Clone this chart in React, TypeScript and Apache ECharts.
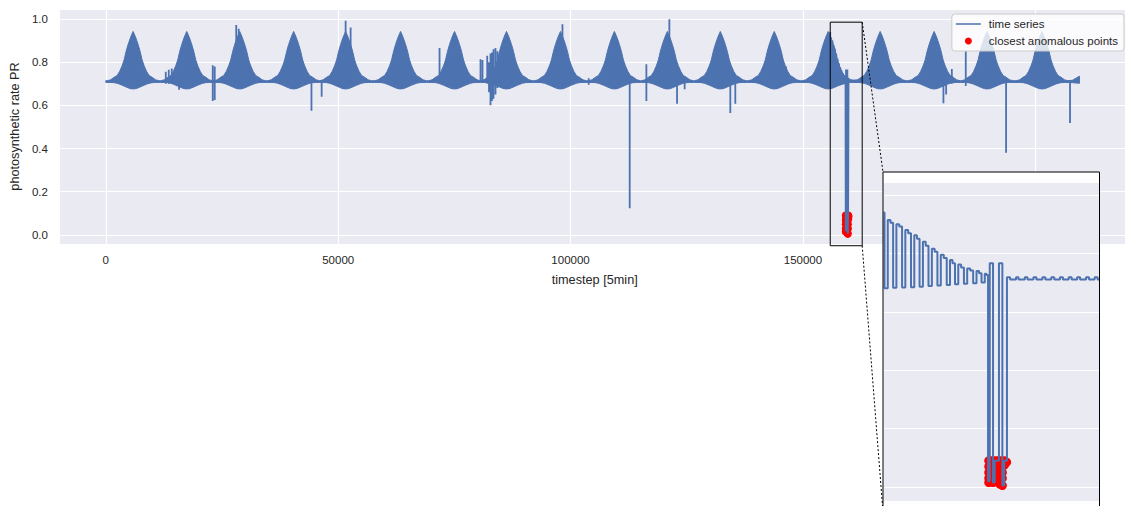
import React, { useEffect, useRef } from "react";
import * as echarts from "echarts";

const BLUE = "#4c72b0";
const BG = "#eaeaf2";
const TEXT = "#262626";
const FONT = "'Liberation Sans', Arial, Helvetica, sans-serif";

// ---- main series: envelope of the dense oscillation ----
const peakCenters = [
  5870, 17415, 28810, 40420, 51600, 63425, 75035, 86215, 97825, 109435, 120830,
  132225, 143835, 155445, 166625, 178235, 189630, 201455,
];
const profileOffsets = [
  -5590, -4840, -4085, -3440, -2900, -2365, -1935, -1505, -1075, -540, 0, 540,
  1075, 1505, 1935, 2365, 2900, 3440, 4085, 4840, 5590,
];
const profileUpper = [
  0.714, 0.718, 0.73, 0.738, 0.757, 0.783, 0.81, 0.85, 0.882, 0.915, 0.942,
  0.915, 0.882, 0.85, 0.81, 0.783, 0.757, 0.738, 0.73, 0.718, 0.714,
];
const profileLower = [
  0.706, 0.706, 0.705, 0.702, 0.698, 0.693, 0.689, 0.685, 0.681, 0.677, 0.676,
  0.677, 0.681, 0.685, 0.689, 0.693, 0.698, 0.702, 0.705, 0.706, 0.706,
];
const bandHeadT = [0];
const bandHeadUpper = [0.714];
const bandHeadLower = [0.706];
const bandTailT = [208000, 209500];
const bandTailUpper = [0.716, 0.735];
const bandTailLower = [0.705, 0.702];

// ---- isolated spikes [timestep, low, high] ----
const spikeT = [
  12900, 13545, 14190, 15760, 23005, 23435, 28060, 28595, 30810, 44250, 46440,
  51600, 52675, 71810, 80625, 81055, 82065, 82450, 82775, 83100, 83420, 83850,
  84280, 98255, 103910, 112725, 116315, 121260, 122915, 124550, 130785, 134375,
  135450, 146350, 180235, 180815, 182040, 185040, 193715, 207475,
];
const spikeLow = [
  0.7, 0.7, 0.7, 0.672, 0.62, 0.625, 0.7, 0.7, 0.7, 0.575, 0.64, 0.7, 0.7, 0.71,
  0.71, 0.71, 0.7, 0.66, 0.6, 0.62, 0.63, 0.65, 0.68, 0.7, 0.695, 0.123, 0.62,
  0.7, 0.607, 0.675, 0.7, 0.565, 0.607, 0.72, 0.61, 0.65, 0.7, 0.69, 0.38, 0.518,
];
const spikeHigh = [
  0.755, 0.765, 0.77, 0.71, 0.785, 0.78, 0.972, 0.955, 0.785, 0.73, 0.71, 0.992,
  0.96, 0.865, 0.813, 0.81, 0.83, 0.8, 0.84, 0.845, 0.86, 0.865, 0.85, 0.975,
  0.725, 0.71, 0.79, 0.998, 0.71, 0.71, 0.822, 0.71, 0.71, 0.78, 0.765, 0.74,
  0.768, 0.85, 0.71, 0.71,
];

// ---- zoomed window (inset): value changes [timestep -> value] ----
const insetT = [
  155875, 155907, 156011, 156097, 156182, 156287, 156377, 156468, 156572, 156663,
  156753, 156858, 156942, 157026, 157133, 157222, 157311, 157419, 157508, 157596,
  157704, 157799, 157894, 157999, 158078, 158157, 158262, 158352, 158443, 158547,
  158642, 158737, 158845, 158925, 159004, 159108, 159161, 159213, 159267, 159372,
  159425, 159561, 159670, 159727, 159816, 159917, 160107, 160186, 160386, 160472,
  160662, 160757, 160947, 161042, 161232, 161327, 161508, 161603, 161787, 161882,
  162057, 162152, 162342, 162437, 162615, 162710, 162755,
];
const insetV = [
  0.94, 0.681, 0.914, 0.905, 0.682, 0.9, 0.892, 0.683, 0.88, 0.869, 0.684, 0.862,
  0.85, 0.686, 0.84, 0.826, 0.688, 0.816, 0.806, 0.69, 0.795, 0.784, 0.692, 0.777,
  0.766, 0.694, 0.762, 0.752, 0.696, 0.748, 0.741, 0.698, 0.74, 0.732, 0.7, 0.73,
  0.726, 0.02, 0.766, 0.015, 0.09, 0.766, 0.005, 0.09, 0.718, 0.711, 0.718, 0.711,
  0.718, 0.711, 0.718, 0.711, 0.718, 0.711, 0.718, 0.711, 0.718, 0.711, 0.718,
  0.711, 0.718, 0.711, 0.718, 0.711, 0.718, 0.711, 0.711,
];

// ---- closest anomalous points ----
const anomalyT = [
  159235, 159235, 159235, 159235, 159235, 159300, 159300, 159372, 159372, 159372,
  159372, 159372, 159457, 159540, 159584, 159584, 159584, 159584, 159584, 159670,
  159670, 159670, 159670, 159670, 159740, 159740, 159806,
];
const anomalyV = [
  0.09, 0.07, 0.05, 0.03, 0.015, 0.09, 0.06, 0.09, 0.07, 0.05, 0.03, 0.015, 0.09,
  0.09, 0.09, 0.07, 0.05, 0.03, 0.01, 0.09, 0.07, 0.05, 0.03, 0.005, 0.09, 0.075,
  0.085,
];

// ---- axes ----
const xMin = -10100;
const xMax = 220500;
const yMin = -0.042;
const yMax = 1.046;
const zoomT0 = 155875;
const zoomT1 = 162755;
const zoomV0 = -0.05;
const zoomV1 = 0.985;
const insetYMin = -0.048;
const insetYMax = 1.0445;

function buildBand() {
  const pts: number[][] = [];
  bandHeadT.forEach((t, i) => pts.push([t, bandHeadUpper[i], bandHeadLower[i]]));
  peakCenters.forEach((c) =>
    profileOffsets.forEach((o, i) => pts.push([c + o, profileUpper[i], profileLower[i]]))
  );
  bandTailT.forEach((t, i) => pts.push([t, bandTailUpper[i], bandTailLower[i]]));
  return pts;
}

function buildInsetLine() {
  const pts: (number | null)[][] = [];
  insetT.forEach((t, i) => {
    if (i > 0) pts.push([t, insetV[i - 1]]);
    pts.push([t, insetV[i]]);
  });
  return pts;
}

function buildMainLine() {
  const pts: (number | null)[][] = [];
  spikeT.forEach((t, i) => {
    pts.push([t, spikeLow[i]]);
    pts.push([t, spikeHigh[i]]);
    pts.push([t, null]);
  });
  return pts.concat(buildInsetLine());
}

const INSET_LEFT = 883;
const INSET_TOP = 172;
const INSET_RIGHT = 1099.5;
const INSET_BOTTOM = 512;

const LINE_ICON =
  "path://M0,0L0.01,0L0.01,0.01L0,0.01Z M0,2.7L25,2.7L25,4.3L0,4.3Z M24.99,6.99L25,6.99L25,7L24.99,7Z";

export default function App() {
  const ref = useRef<HTMLDivElement>(null);
  useEffect(() => {
    if (!ref.current) return;
    document.body.style.margin = "0";
    const chart = echarts.init(ref.current, undefined, { renderer: "svg" });
    const band = buildBand();
    const mainLine = buildMainLine();
    const insetLine = buildInsetLine();
    const anomalies = anomalyT.map((t, i) => [t, anomalyV[i]]);
    const labelStyle = { color: TEXT, fontSize: 11.5, fontFamily: FONT };

    chart.setOption({
      animation: false,
      textStyle: { fontFamily: FONT, color: TEXT },
      grid: [
        {
          left: 58,
          top: 9,
          width: (xMax - xMin) / 215,
          height: 235,
          show: true,
          backgroundColor: BG,
          borderWidth: 0,
          z: 0,
        },
        {
          left: INSET_LEFT + 0.5,
          top: 182,
          width: 215.5,
          height: 319,
          show: true,
          backgroundColor: BG,
          borderWidth: 0,
          z: 11,
        },
      ],
      xAxis: [
        {
          type: "value",
          gridIndex: 0,
          min: xMin,
          max: xMax,
          z: 1,
          axisLine: { show: false },
          axisTick: { show: false },
          splitLine: { show: true, lineStyle: { color: "#ffffff", width: 1.2 } },
          axisLabel: {
            ...labelStyle,
            margin: 10,
            showMinLabel: false,
            showMaxLabel: false,
            formatter: (v: number) => String(v),
          },
          name: "timestep [5min]",
          nameLocation: "middle",
          nameGap: 29,
          nameTextStyle: { color: TEXT, fontSize: 12.7, fontFamily: FONT },
        },
        {
          type: "value",
          gridIndex: 1,
          min: zoomT0,
          max: zoomT1,
          z: 12,
          axisLine: { show: false },
          axisTick: { show: false },
          axisLabel: { show: false },
          splitLine: { show: false },
        },
      ],
      yAxis: [
        {
          type: "value",
          gridIndex: 0,
          min: yMin,
          max: yMax,
          z: 1,
          axisLine: { show: false },
          axisTick: { show: false },
          splitLine: { show: true, lineStyle: { color: "#ffffff", width: 1.2 } },
          axisLabel: {
            ...labelStyle,
            margin: 11,
            showMinLabel: false,
            showMaxLabel: false,
            formatter: (v: number) => v.toFixed(1),
          },
          name: "photosynthetic rate PR",
          nameLocation: "middle",
          nameGap: 37,
          nameTextStyle: { color: TEXT, fontSize: 12.7, fontFamily: FONT },
        },
        {
          type: "value",
          gridIndex: 1,
          min: insetYMin,
          max: insetYMax,
          z: 12,
          axisLine: { show: false },
          axisTick: { show: false },
          axisLabel: { show: false },
          splitLine: { show: true, lineStyle: { color: "#ffffff", width: 1.2 } },
        },
      ],
      legend: {
        data: [
          { name: "time series", icon: LINE_ICON },
          { name: "closest anomalous points", icon: "circle" },
        ],
        orient: "vertical",
        right: 8,
        top: 14,
        itemWidth: 25,
        itemHeight: 7,
        itemGap: 3,
        padding: [3, 6, 3, 4],
        backgroundColor: "rgba(255,255,255,0.8)",
        borderColor: "#cccccc",
        borderWidth: 1,
        borderRadius: 3,
        selectedMode: false,
        z: 20,
        textStyle: {
          color: TEXT,
          fontSize: 11.5,
          fontFamily: FONT,
          lineHeight: 14,
          padding: [0, 0, 0, 3],
        },
      },
      series: [
        {
          name: "band",
          type: "custom",
          xAxisIndex: 0,
          yAxisIndex: 0,
          data: band,
          encode: { x: 0, y: [1, 2] },
          silent: true,
          clip: true,
          z: 2,
          renderItem: (params: any, api: any) => {
            if (params.dataIndex !== 0) return null;
            const pts: number[][] = [];
            for (let i = 0; i < band.length; i++) pts.push(api.coord([band[i][0], band[i][1]]));
            for (let i = band.length - 1; i >= 0; i--)
              pts.push(api.coord([band[i][0], band[i][2]]));
            return {
              type: "polygon",
              shape: { points: pts },
              style: { fill: BLUE, stroke: BLUE, lineWidth: 1 },
            };
          },
        },
        {
          name: "closest anomalous points",
          type: "scatter",
          xAxisIndex: 0,
          yAxisIndex: 0,
          data: anomalies,
          symbol: "circle",
          symbolSize: 8,
          itemStyle: { color: "#ff0000", opacity: 1 },
          z: 3,
        },
        {
          name: "time series",
          type: "line",
          xAxisIndex: 0,
          yAxisIndex: 0,
          data: mainLine,
          symbol: "none",
          connectNulls: false,
          z: 4,
          itemStyle: { color: BLUE },
          lineStyle: { color: BLUE, width: 1.8 },
        },
        {
          name: "closest anomalous points",
          type: "scatter",
          xAxisIndex: 1,
          yAxisIndex: 1,
          data: anomalies,
          symbol: "circle",
          symbolSize: 9,
          itemStyle: { color: "#ff0000", opacity: 1 },
          z: 13,
        },
        {
          name: "time series",
          type: "line",
          xAxisIndex: 1,
          yAxisIndex: 1,
          data: insetLine,
          symbol: "none",
          z: 14,
          itemStyle: { color: BLUE },
          lineStyle: { color: BLUE, width: 2 },
        },
      ],
    });

    const a = chart.convertToPixel({ xAxisIndex: 0, yAxisIndex: 0 }, [zoomT0, zoomV1]) as number[];
    const b = chart.convertToPixel({ xAxisIndex: 0, yAxisIndex: 0 }, [zoomT1, zoomV0]) as number[];
    chart.setOption({
      graphic: [
        {
          type: "rect",
          z: 10,
          silent: true,
          shape: {
            x: INSET_LEFT,
            y: INSET_TOP,
            width: INSET_RIGHT - INSET_LEFT,
            height: INSET_BOTTOM - INSET_TOP,
          },
          style: { fill: "#ffffff" },
        },
        {
          type: "rect",
          z: 15,
          silent: true,
          shape: {
            x: INSET_LEFT,
            y: INSET_TOP,
            width: INSET_RIGHT - INSET_LEFT,
            height: INSET_BOTTOM - INSET_TOP,
          },
          style: { fill: "none", stroke: "#000000", lineWidth: 1 },
        },
        {
          type: "rect",
          z: 9,
          silent: true,
          shape: { x: a[0], y: a[1], width: b[0] - a[0], height: b[1] - a[1] },
          style: { fill: "none", stroke: "#000000", lineWidth: 1 },
        },
        {
          type: "line",
          z: 9,
          silent: true,
          shape: { x1: b[0], y1: a[1], x2: INSET_LEFT, y2: INSET_TOP },
          style: { stroke: "#000000", lineWidth: 1, lineDash: [2, 2] },
        },
        {
          type: "line",
          z: 9,
          silent: true,
          shape: { x1: b[0], y1: b[1], x2: INSET_LEFT, y2: INSET_BOTTOM },
          style: { stroke: "#000000", lineWidth: 1, lineDash: [2, 2] },
        },
      ],
    });

    return () => chart.dispose();
  }, []);

  return (
    <div
      style={{
        position: "fixed",
        left: 0,
        top: 0,
        width: 1125,
        height: 506,
        overflow: "hidden",
        background: "#ffffff",
      }}
    >
      <div ref={ref} style={{ width: 1132, height: 506 }} />
    </div>
  );
}
